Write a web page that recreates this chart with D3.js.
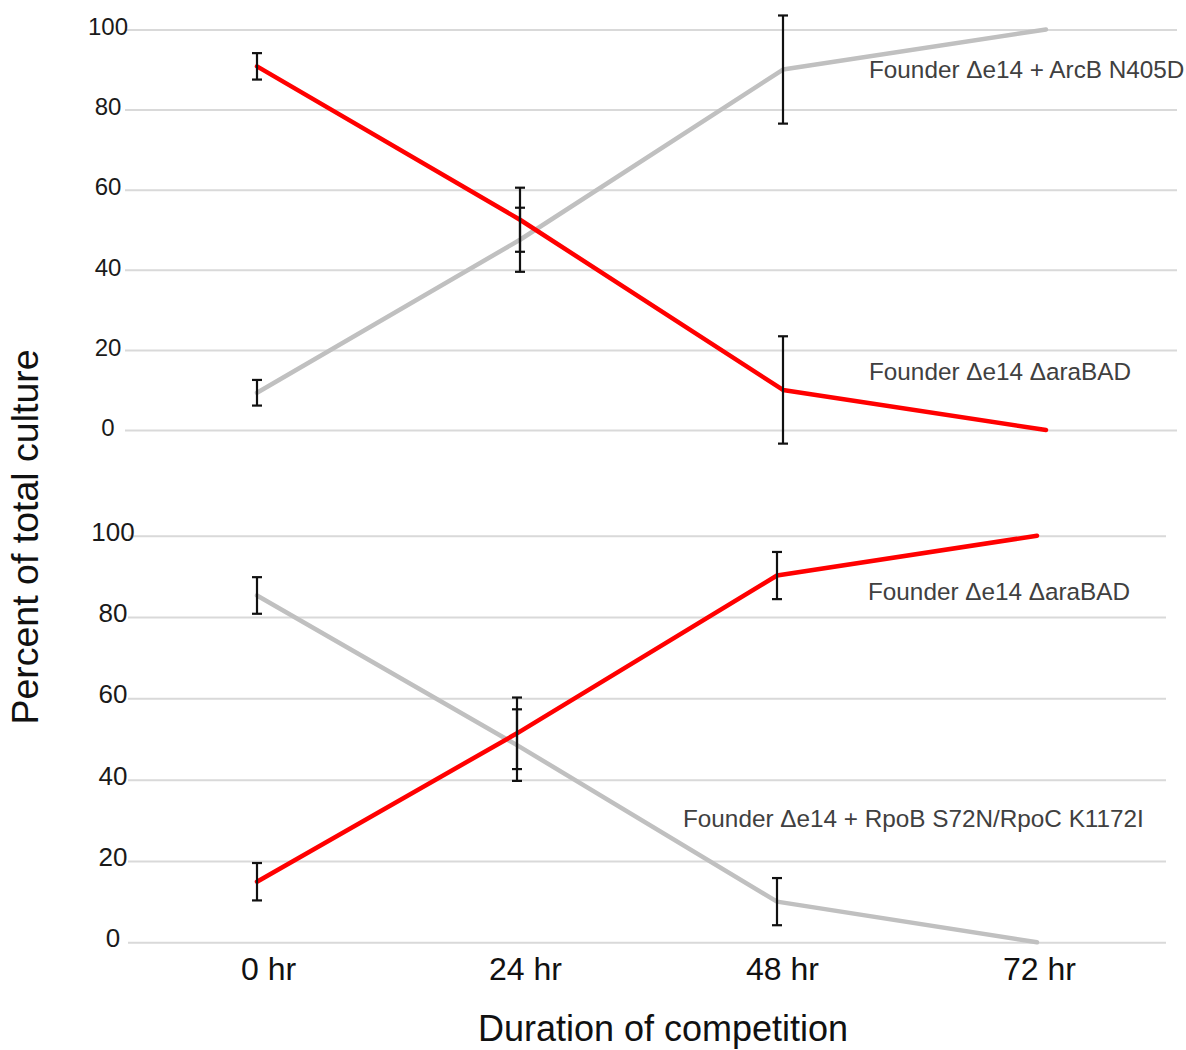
<!DOCTYPE html>
<html>
<head>
<meta charset="utf-8">
<script src="https://cdn.jsdelivr.net/npm/d3@7/dist/d3.min.js"></script>
<style>
  html, body { margin: 0; padding: 0; background: #fff; }
  svg { display: block; font-family: "Liberation Sans", Arial, sans-serif; }
</style>
</head>
<body>
<svg id="chart" width="1186" height="1050"></svg>
<script>
// Time points of the competition assay
const timepoints = ["0 hr", "24 hr", "48 hr", "72 hr"];
const yTicks = [0, 20, 40, 60, 80, 100];

// Panel A: ΔaraBAD founder vs. ArcB N405D founder
const topAraBAD      = [90.8, 52.5, 10.0, 0];
const topAraBADErr   = [3.3, 8.0, 13.4, null];
const topArcB        = [9.3, 47.5, 90.0, 100];
const topArcBErr     = [3.2, 8.0, 13.5, null];

// Panel B: ΔaraBAD founder vs. RpoB/RpoC founder
const botAraBAD      = [14.9, 51.4, 90.2, 100];
const botAraBADErr   = [4.6, 8.8, 5.8, null];
const botRpo         = [85.3, 48.5, 10.0, 0];
const botRpoErr      = [4.5, 8.8, 5.8, null];

const RED = "#ff0000", GREY = "#c0c0c0";

const svg = d3.select("#chart");

function drawPanel(cfg) {
  const g = svg.append("g");
  const x = d3.scalePoint().domain(timepoints).range(cfg.xRange);
  const y = d3.scaleLinear().domain([0, 100]).range(cfg.yRange);

  // horizontal gridlines with centred tick labels
  const axis = d3.axisLeft(y).tickValues(yTicks)
    .tickSize(-(cfg.gridX[1] - cfg.gridX[0])).tickPadding(0);
  const ag = g.append("g").attr("transform", `translate(${cfg.gridX[0]},0)`).call(axis);
  ag.select(".domain").remove();
  ag.selectAll(".tick line").attr("stroke", "#d9d9d9").attr("stroke-width", 2);
  ag.selectAll(".tick text")
    .attr("x", cfg.labelX - cfg.gridX[0])
    .attr("text-anchor", "middle")
    .attr("dy", cfg.tickDy)
    .attr("fill", "#1a1a1a")
    .style("font-size", cfg.tickFont + "px");

  const line = d3.line()
    .x((d, i) => x(timepoints[i]))
    .y(d => y(d));

  cfg.series.forEach(s => {
    g.append("path")
      .datum(s.values)
      .attr("d", line)
      .attr("fill", "none")
      .attr("stroke", s.color)
      .attr("stroke-width", 4.5)
      .attr("stroke-linejoin", "round")
      .attr("stroke-linecap", "round");
  });

  // error bars
  cfg.series.forEach(s => {
    const eb = g.append("g").attr("stroke", "#111").attr("stroke-width", 2.2);
    s.values.forEach((v, i) => {
      const e = s.err[i];
      if (e == null) return;
      const cx = x(timepoints[i]);
      const y1 = y(v + e), y2 = y(v - e);
      eb.append("line").attr("x1", cx).attr("x2", cx).attr("y1", y1).attr("y2", y2);
      eb.append("line").attr("x1", cx - 5).attr("x2", cx + 5).attr("y1", y1).attr("y2", y1);
      eb.append("line").attr("x1", cx - 5).attr("x2", cx + 5).attr("y1", y2).attr("y2", y2);
    });
  });

  cfg.labels.forEach(l => {
    g.append("text")
      .attr("x", l.x).attr("y", l.y)
      .attr("fill", "#404040")
      .style("font-size", "24.3px")
      .text(l.text);
  });
  return x;
}

drawPanel({
  xRange: [257, 1046], yRange: [430, 29.5], gridX: [125, 1177],
  labelX: 108, tickFont: 24, tickDy: "0.22em",
  series: [
    { values: topArcB, err: topArcBErr, color: GREY },
    { values: topAraBAD, err: topAraBADErr, color: RED }
  ],
  labels: [
    { text: "Founder Δe14 + ArcB N405D", x: 869, y: 78 },
    { text: "Founder Δe14 ΔaraBAD", x: 869, y: 380 }
  ]
});

drawPanel({
  xRange: [257, 1037], yRange: [942.3, 535.7], gridX: [128, 1166],
  labelX: 113, tickFont: 26, tickDy: "0.17em",
  series: [
    { values: botRpo, err: botRpoErr, color: GREY },
    { values: botAraBAD, err: botAraBADErr, color: RED }
  ],
  labels: [
    { text: "Founder Δe14 ΔaraBAD", x: 868, y: 600 },
    { text: "Founder Δe14 + RpoB S72N/RpoC K1172I", x: 683, y: 827 }
  ]
});

// category labels along the bottom
const xLab = d3.scalePoint().domain(timepoints).range([268, 1039]);
const xAxis = d3.axisBottom(xLab).tickSize(0).tickPadding(0);
const xg = svg.append("g").attr("transform", "translate(0,980)").call(xAxis);
xg.select(".domain").remove();
xg.selectAll(".tick text")
  .attr("y", 0).attr("dy", 0)
  .attr("fill", "#111")
  .style("font-size", "32px");

svg.append("text")
  .attr("x", 663).attr("y", 1041)
  .attr("text-anchor", "middle")
  .attr("fill", "#111")
  .style("font-size", "36px")
  .text("Duration of competition");

svg.append("text")
  .attr("transform", "translate(38,537) rotate(-90)")
  .attr("text-anchor", "middle")
  .attr("fill", "#111")
  .style("font-size", "37.5px")
  .text("Percent of total culture");
</script>
</body>
</html>
